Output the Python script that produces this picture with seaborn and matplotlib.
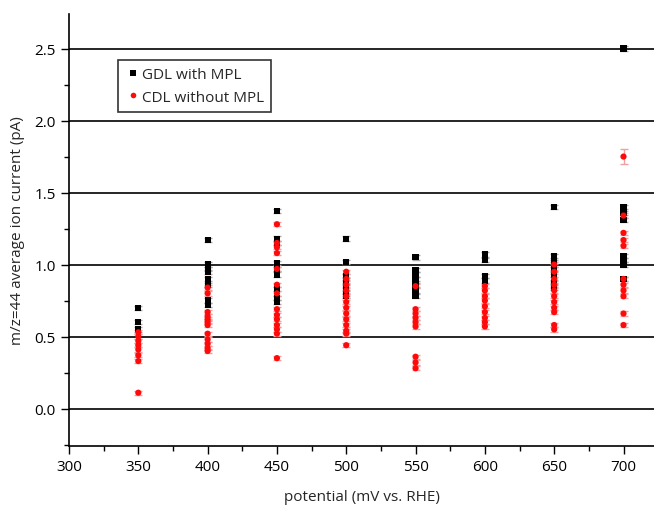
import numpy as np
import pandas as pd
import seaborn as sns
import matplotlib.pyplot as plt
from matplotlib.ticker import MultipleLocator

# potentials (mV vs. RHE)
potentials = [350, 400, 450, 500, 550, 600, 650, 700]

# GDL with MPL, average ion current per potential (pA)
gdl_current = [
    [0.70, 0.60, 0.55],
    [1.17, 1.00, 0.97, 0.95, 0.90, 0.86, 0.75, 0.72],
    [1.37, 1.18, 1.15, 1.01, 0.97, 0.93, 0.83, 0.77, 0.74],
    [1.18, 1.02, 0.92, 0.88, 0.84, 0.80, 0.78],
    [1.05, 0.96, 0.93, 0.90, 0.86, 0.82, 0.78],
    [1.07, 1.03, 0.92, 0.89],
    [1.40, 1.06, 1.02, 0.97, 0.93, 0.88, 0.84],
    [2.50, 1.40, 1.36, 1.31, 1.06, 1.03, 1.00, 0.90],
]

# CDL without MPL
cdl_current = [
    [0.53, 0.50, 0.47, 0.44, 0.41, 0.37, 0.33, 0.11],
    [0.84, 0.80, 0.67, 0.64, 0.62, 0.60, 0.58, 0.52, 0.48, 0.45, 0.42, 0.40],
    [1.28, 1.15, 1.12, 1.08, 0.97, 0.86, 0.80, 0.69, 0.65, 0.62, 0.58, 0.55, 0.52, 0.35],
    [0.95, 0.90, 0.86, 0.82, 0.78, 0.74, 0.70, 0.66, 0.62, 0.58, 0.54, 0.52, 0.44],
    [0.85, 0.69, 0.66, 0.63, 0.60, 0.57, 0.36, 0.32, 0.28],
    [0.85, 0.82, 0.78, 0.75, 0.71, 0.67, 0.63, 0.60, 0.57],
    [1.00, 0.95, 0.90, 0.86, 0.82, 0.78, 0.74, 0.70, 0.67, 0.58, 0.55],
    [1.75, 1.34, 1.22, 1.17, 1.13, 0.90, 0.86, 0.82, 0.78, 0.66, 0.58],
]

# error bars: small everywhere, the 1.75 point has a wider one
small_err = 0.015
big_err = {(700, 1.75): 0.05}

labels = ['GDL with MPL', 'CDL without MPL']

rows = []
for lab, series in zip(labels, [gdl_current, cdl_current]):
    for p, vals in zip(potentials, series):
        for v in vals:
            rows.append({'potential': p, 'current': v, 'sample': lab,
                         'err': big_err.get((p, v), small_err)})
df = pd.DataFrame(rows)

sns.set_style('ticks')
plt.rcParams['font.family'] = ['Open Sans', 'DejaVu Sans']

fig = plt.figure(figsize=(6.54, 5.06), dpi=100)
ax = fig.add_axes([69/654, 1 - 447/506, 1 - 69/654, (447 - 15)/506])

for y in np.arange(0, 2.51, 0.5):
    ax.axhline(y, color='black', lw=1.2, zorder=1)

err_cols = {'GDL with MPL': '#a8a8a8', 'CDL without MPL': '#f0a0a0'}
for lab in labels:
    sub = df[df['sample'] == lab]
    ax.errorbar(sub['potential'], sub['current'], yerr=sub['err'], fmt='none',
                ecolor=err_cols[lab], elinewidth=1, capsize=3, capthick=1, zorder=2)

sns.scatterplot(data=df, x='potential', y='current', hue='sample', style='sample',
                palette={'GDL with MPL': 'black', 'CDL without MPL': '#ff0a0a'},
                markers={'GDL with MPL': 's', 'CDL without MPL': 'o'},
                s=20, linewidth=0, ax=ax, zorder=3)

ax.set_xlim(300, 722)
ax.set_ylim(-0.26, 2.74)
ax.xaxis.set_major_locator(MultipleLocator(50))
ax.xaxis.set_minor_locator(MultipleLocator(25))
ax.yaxis.set_major_locator(MultipleLocator(0.5))
ax.yaxis.set_minor_locator(MultipleLocator(0.25))
ax.yaxis.set_major_formatter(plt.FormatStrFormatter('%.1f'))
ax.tick_params(which='major', direction='out', length=6, width=1, colors='black', labelsize=11)
ax.tick_params(which='minor', direction='out', length=3.5, width=1, colors='black')

sns.despine(ax=ax, top=True, right=True)
for s in ['left', 'bottom']:
    ax.spines[s].set_color('black')
    ax.spines[s].set_linewidth(1.2)

ax.set_xlabel('potential (mV vs. RHE)', fontsize=11, labelpad=11)
ax.set_ylabel('m/z=44 average ion current (pA)', fontsize=11, labelpad=7)

leg = ax.legend(loc='upper left', bbox_to_anchor=(0.084, 0.893), borderaxespad=0,
                fontsize=11, frameon=True, fancybox=False, handletextpad=0.1,
                handlelength=1.0, markerscale=0.9, borderpad=0.45, labelspacing=0.5)
leg.get_frame().set_edgecolor('black')
leg.get_frame().set_linewidth(1.2)

fig.savefig('out.png', dpi=100)
